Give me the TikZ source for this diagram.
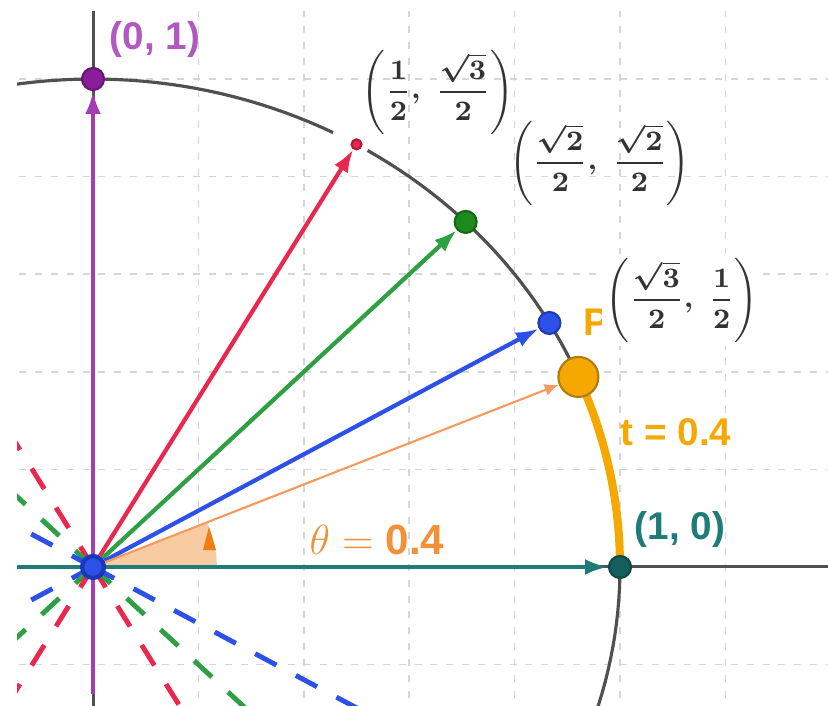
\documentclass[tikz,border=0pt]{standalone}
\usepackage{amsmath, amssymb}
\usepackage{fontspec}
\usepackage{tikz}
\usetikzlibrary{arrows.meta, positioning, calc}
\newfontfamily\ggb{Liberation Sans}
\definecolor{morado}{HTML}{A43CB4}
\definecolor{moradooscuro}{HTML}{8A1E9A}
\definecolor{rojo}{HTML}{E8284E}
\definecolor{verde}{HTML}{2EA043}
\definecolor{verdeoscuro}{HTML}{1C8A1C}
\definecolor{azul}{HTML}{2C50E8}
\definecolor{azuloscuro}{HTML}{1838B8}
\definecolor{naranja}{HTML}{F39A5C}
\definecolor{naranjaoscuro}{HTML}{F07D14}
\definecolor{salmon}{HTML}{F8CBA2}
\definecolor{ambar}{HTML}{F5A800}
\definecolor{ambaroscuro}{HTML}{B07A10}
\definecolor{turquesa}{HTML}{1F7B78}
\definecolor{turquesaoscuro}{HTML}{145F5C}
\definecolor{pizarra}{HTML}{505050}
\definecolor{rejillac}{HTML}{D6D6D6}
\definecolor{texto}{HTML}{333333}
\tikzset{
  eje/.style={pizarra, line width=0.85pt},
  rejilla/.style={rejillac, line width=0.5pt, dash pattern=on 2pt off 2.5pt},
  circulo/.style={pizarra, line width=0.9pt},
  rayo/.style={line width=1.4pt, dash pattern=on 0.24cm off 0.22cm},
  vec/.style={line width=1.2pt, -{Latex[length=6.5pt, width=4.5pt]}},
  punto/.style={circle, fill=#1, draw=#1!75!black, line width=0.6pt, inner sep=0pt, minimum size=0.22cm},
  etq/.style={font=\ggb\bfseries\fontsize{11}{12}\selectfont, inner sep=0pt},
  fraccion/.style={font=\fontsize{8}{9}\selectfont\boldmath, text=texto, inner sep=1pt},
}

\begin{document}
\begin{tikzpicture}[x=5.27cm, y=4.88cm]
  \path[use as bounding box, fill=white] (-0.1765,-0.2848) rectangle (1.3947,1.1619);
  \begin{scope}
    \clip (-0.1442,-0.2848) rectangle (1.3947,1.1373);
    % rejilla
    \foreach \i in {1,...,6} \draw[rejilla] ({0.2*\i},-0.3) -- ({0.2*\i},1.2);
    \foreach \j in {-1,1,2,3,4,5} \draw[rejilla] (-0.2,{0.2*\j}) -- (1.5,{0.2*\j});
    % rayos opuestos
    \foreach \a/\c in {120/rojo,135/verde,150/azul,210/azul,225/verde,240/rojo,300/rojo,315/verde,330/azul}
      \draw[rayo, \c] (0,0) -- ({cos(\a)},{sin(\a)});
    % ejes
    \draw[eje] (-0.2,0) -- (1.5,0);
    \draw[eje] (0,-0.3) -- (0,1.2);
    \draw[morado, line width=1.4pt] (0,0) -- (0,-0.26);
    \draw[turquesa, line width=1.4pt] (0,0) -- (-0.5,0);
    % circunferencia
    \draw[circulo] plot[domain=-25:58.6, samples=60] ({cos(\x)},{sin(\x)});
    \draw[circulo] plot[domain=62.9:105, samples=30] ({cos(\x)},{sin(\x)});
    % angulo y arco
    \fill[salmon] (0,0) -- plot[domain=0:22.92, samples=20] ({0.235*cos(\x)},{0.235*sin(\x)}) -- cycle;
    \fill[naranjaoscuro] (0.2201,0.0820) -- (0.2087,0.0348) -- (0.2334,0.0348) -- cycle;
    \draw[ambar, line width=2.3pt] plot[domain=0:22.92, samples=30] ({cos(\x)},{sin(\x)});
  \end{scope}
  % puntos
  \node[punto=moradooscuro] (Y) at (0,1) {};
  \node[punto=rojo, minimum size=0.1cm] (R) at ({cos(60)},{sin(60)}) {};
  \node[punto=verdeoscuro] (G) at ({cos(45)},{sin(45)}) {};
  \node[punto=azul] (B) at ({cos(30)},{sin(30)}) {};
  \node[punto=ambar, draw=ambaroscuro, minimum size=0.4cm] (P) at ({cos(22.92)},{sin(22.92)}) {};
  \node[punto=turquesaoscuro] (X) at (1,0) {};
  \node[punto=azul, draw=azuloscuro, line width=1.2pt] (O) at (0,0) {};
  % vectores
  \draw[vec, morado] (O) -- (Y);
  \draw[vec, rojo] (O) -- (R);
  \draw[vec, verde] (O) -- (G);
  \draw[vec, azul] (O) -- (B);
  \draw[naranja, line width=0.6pt, -{Latex[length=4pt, width=3.5pt]}] (O) -- (P);
  \draw[vec, turquesa] (O) -- (X);
  % etiquetas
  \node[etq, morado!85!white] (tY) at (0.1176,1.0799) {(0, 1)};
  \node[etq, turquesa] (tX) at (1.1139,0.0758) {(1, 0)};
  \node[etq, ambar] (tt) at (1.1063,0.2766) {t = 0.4};
  \node[font=\fontsize{12}{13}\selectfont, text=naranjaoscuro!85!white, inner sep=0pt] (ttheta) at (0.5389,0.0553) {$\theta = \textbf{\ggb 0.4}$};
  \node[etq, ambar] (tP) at (0.9545,0.502) {P};
  \node[fraccion] (tR) at (0.6546,0.9734) {$\left(\dfrac{1}{2},\;\dfrac{\sqrt{3}}{2}\right)$};
  \node[fraccion] (tG) at (0.962,0.828) {$\left(\dfrac{\sqrt{2}}{2},\;\dfrac{\sqrt{2}}{2}\right)$};
  \node[fraccion, fill=white] (tB) at (1.1177,0.5471) {$\left(\dfrac{\sqrt{3}}{2},\;\dfrac{1}{2}\right)$};
\end{tikzpicture}
\end{document}
